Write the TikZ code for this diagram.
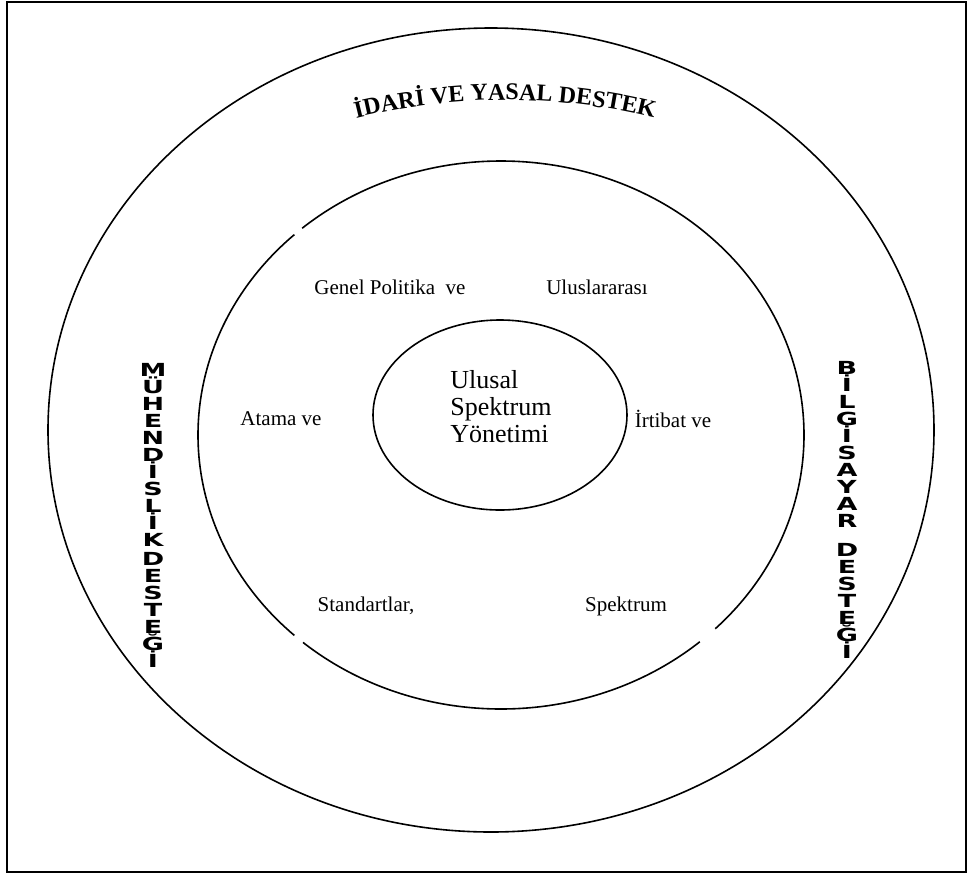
\documentclass[tikz,border=0pt]{standalone}
\usepackage{fontspec}
\setmainfont{Liberation Serif}
\newfontfamily\sidefont{DejaVu Sans}
\usetikzlibrary{decorations.text}

\begin{document}
\begin{tikzpicture}[x=0.5pt,y=-0.5pt,
        ring/.style={line width=0.8pt},
        lbl/.style={font=\fontsize{10.5}{12}\selectfont, inner sep=0pt},
        sidetxt/.style={align=center, inner sep=0pt, xscale=1.5, transform shape, font=\sidefont\bfseries\fontsize{9}{8.5}\selectfont}]
                \useasboundingbox (0,0) rectangle (980,874);
                \draw [line width=1pt] (7,2) rectangle (966,872);
                % ellipse centres
                \coordinate (outerc) at (491,430);
                \coordinate (midc) at (501,435);
                \coordinate (innerc) at (500,415);
                \coordinate (titlec) at (505,720);
                \draw [ring] (outerc) ellipse [x radius=221.5pt, y radius=201pt];
                \foreach \a/\b in {133/227, 229.2/311, 315/491}
                    \draw [ring] (midc) ++(\a:151.5pt and 137pt) arc [start angle=\a, end angle=\b, x radius=151.5pt, y radius=137pt];
                \draw [ring] (innerc) ellipse [x radius=63.5pt, y radius=47.5pt];
                % curved title
                \path [decorate, decoration={text along path, text align=center,
                    text={|\bfseries\fontsize{12}{12}\selectfont|İDARİ VE YASAL DESTEK}}]
                    (titlec) ++(120:310pt) arc [start angle=120, end angle=60, radius=310pt];
                % labels
                \node [lbl] (genel) at (390,287) {Genel Politika\ \ ve};
                \node [lbl] (uluslar) at (597,287) {Uluslararası};
                \node [lbl] (atama) at (281,419) {Atama ve};
                \node [lbl] (irtibat) at (673,419) {İrtibat ve};
                \node [lbl] (standart) at (366,606) {Standartlar,};
                \node [lbl] (spektrum) at (626,606) {Spektrum};
                \node [align=left, inner sep=0pt, anchor=west, font=\fontsize{13}{13.5}\selectfont] (usy) at (450,407) {Ulusal\\Spektrum\\Yönetimi};
                % vertical side texts
                \node [sidetxt] (muh) at (153,515) {M\\Ü\\H\\E\\N\\D\\İ\\S\\L\\İ\\K\\[1pt]D\\E\\S\\T\\E\\Ğ\\İ};
                \node [sidetxt] (bilg) at (847,510) {B\\İ\\L\\G\\İ\\S\\A\\Y\\A\\R\\[6pt]D\\E\\S\\T\\E\\Ğ\\İ};
            \end{tikzpicture}
\end{document}
